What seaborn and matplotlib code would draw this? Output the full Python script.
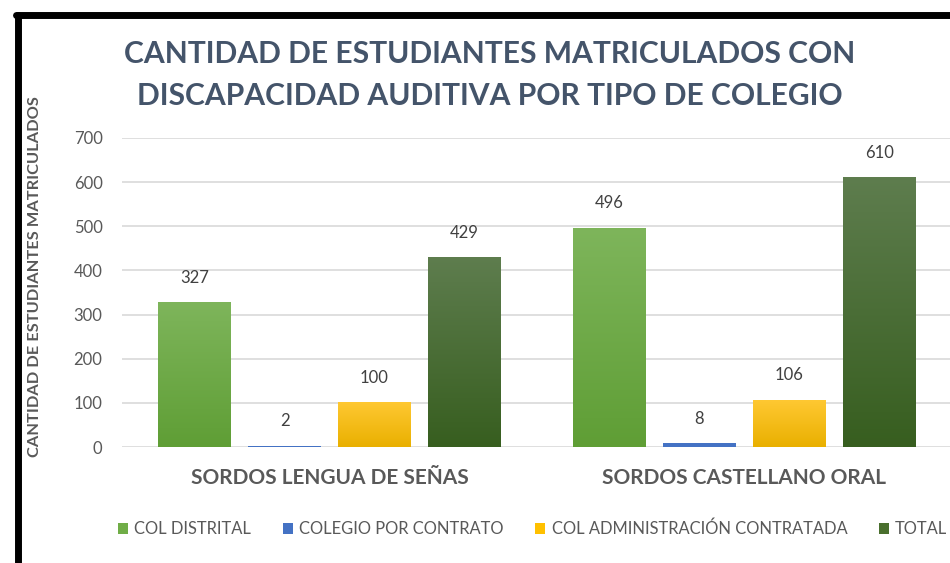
import numpy as np
import pandas as pd
import matplotlib
matplotlib.use("Agg")
import matplotlib.pyplot as plt
import matplotlib.colors as mcolors
from matplotlib.patches import Patch, Rectangle
import seaborn as sns

categories = ["SORDOS LENGUA DE SEÑAS", "SORDOS CASTELLANO ORAL"]
series = ["COL DISTRITAL", "COLEGIO POR CONTRATO", "COL ADMINISTRACIÓN CONTRATADA", "TOTAL"]
col_distrital = [327, 496]
colegio_por_contrato = [2, 8]
col_admin_contratada = [100, 106]
total = [429, 610]
y_ticks = [0, 100, 200, 300, 400, 500, 600, 700]

title = "CANTIDAD DE ESTUDIANTES MATRICULADOS CON\nDISCAPACIDAD AUDITIVA POR TIPO DE COLEGIO"
ylabel = "CANTIDAD DE ESTUDIANTES MATRICULADOS"

values = [col_distrital, colegio_por_contrato, col_admin_contratada, total]
rows = []
for s, vals in zip(series, values):
    for c, v in zip(categories, vals):
        rows.append({"categoria": c, "serie": s, "valor": v})
df = pd.DataFrame(rows)

solid = ["#70AD47", "#4472C4", "#FFC000", "#4A6F2E"]
grad = [("#7EB55B", "#5F9E35"), None,
        ("#FFC832", "#E9B000"), ("#5E7D4E", "#375E1F")]

sns.set_theme(style="white")
plt.rcParams["font.family"] = ["Lato", "DejaVu Sans"]

fig = plt.figure(figsize=(9.5, 5.63), dpi=100)
ax = fig.add_axes([122/950, 116/563, 830/950, 309/563])

sns.barplot(data=df, x="categoria", y="valor", hue="serie", order=categories,
            hue_order=series, palette=solid, width=0.867, gap=0.19,
            ax=ax, legend=False, saturation=1)

ax.set_ylim(0, 700)
ax.set_xlim(-0.5, 1.5)
ax.set_yticks(y_ticks)
ax.yaxis.grid(True, color="#D9D9D9", linewidth=1.2)
ax.set_axisbelow(True)
for sp in ax.spines.values():
    sp.set_visible(False)
ax.tick_params(axis="both", length=0)
ax.tick_params(axis="y", pad=14, labelsize=12, labelcolor="#595959")
ax.tick_params(axis="x", pad=15, labelsize=15, labelcolor="#595959")
for lbl in ax.get_xticklabels():
    lbl.set_fontweight("bold")
ax.set_xlabel("")
ax.set_ylabel(ylabel, fontsize=11.8, fontweight="bold", color="#595959")
ax.yaxis.set_label_coords(-80/830, 0.55)

# gradients on bars
patches = [p for p in ax.patches if isinstance(p, Rectangle) and p.get_height() > 0]
for i, p in enumerate(patches):
    si = i // len(categories)
    x0, y0 = p.get_x(), p.get_y()
    w, h = p.get_width(), p.get_height()
    if grad[si] is not None:
        top_c, bot_c = grad[si]
        p.set_visible(False)
        cmap = mcolors.LinearSegmentedColormap.from_list("g", [bot_c, top_c])
        img = np.linspace(0, 1, 256).reshape(-1, 1)
        ax.imshow(img, extent=[x0, x0 + w, y0, y0 + h], origin="lower", cmap=cmap,
                  aspect="auto", zorder=2, interpolation="bilinear")
    else:
        p.set_edgecolor("none")
    ax.text(x0 + w / 2, y0 + h + 38, f"{int(round(h))}", ha="center", va="bottom",
            fontsize=12, color="#404040", zorder=5)
ax.set_ylim(0, 700)
ax.set_xlim(-0.5, 1.5)

fig.text(490/950, 1 - 75/563, title, ha="center", va="center", fontsize=21.6,
         fontweight="bold", color="#44546A", linespacing=1.6)

handles = [Patch(facecolor=c, edgecolor="none") for c in solid]
fig.legend(handles, series, loc="center left", bbox_to_anchor=(103/950, 1 - 529/563),
           ncol=4, frameon=False, fontsize=11.9, labelcolor="#595959",
           handlelength=0.6, handleheight=0.6, handletextpad=0.4, columnspacing=1.9)

# black frame of the screenshot
fig.add_artist(plt.Line2D([18/950, 18/950], [0, 1 - 15/563], color="black",
                          linewidth=5, transform=fig.transFigure))
fig.add_artist(plt.Line2D([15.5/950, 1], [1 - 15/563, 1 - 15/563], color="black",
                          linewidth=5, transform=fig.transFigure))

fig.savefig("out.png", dpi=100, facecolor="white")
